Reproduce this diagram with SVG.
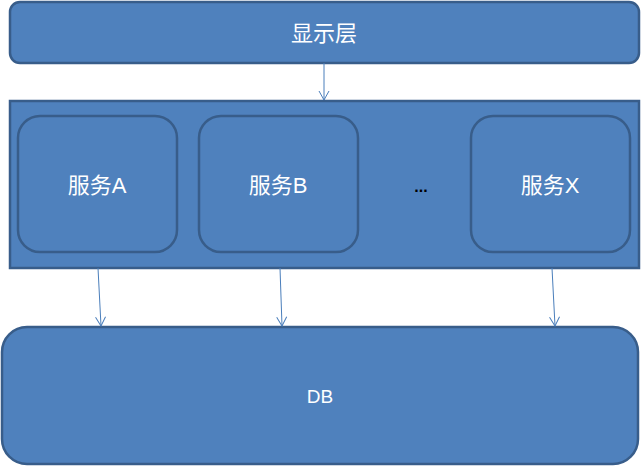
<svg xmlns="http://www.w3.org/2000/svg" width="641" height="466" viewBox="0 0 641 466">
<defs>
<style>
.box{fill:#4F81BD;stroke:#385D8A;stroke-width:2.5}
.t{fill:#fff;font-family:"Liberation Sans","Noto Sans CJK SC",sans-serif;font-size:22px;text-anchor:middle;dominant-baseline:central}
.c{stroke:#4A7EBB;stroke-width:1;fill:none;marker-end:url(#ah)}
</style>
<marker id="ah" markerWidth="12" markerHeight="12" refX="10" refY="6" orient="auto" markerUnits="userSpaceOnUse">
<path d="M1,1 L10,6 L1,11" fill="none" stroke="#4A7EBB" stroke-width="1"/>
</marker>
</defs>
<g id="display"><rect class="box" x="10" y="2" width="629" height="61" rx="10"/><text class="t" x="324" y="33">显示层</text></g>
<g id="services"><rect class="box" x="10" y="101" width="629" height="167"/></g>
<g id="svcA"><rect class="box" x="18" y="116" width="159" height="136" rx="22"/><text class="t" x="97" y="185">服务A</text></g>
<g id="svcB"><rect class="box" x="199" y="116" width="159" height="136" rx="22"/><text class="t" x="278" y="185">服务B</text></g>
<g id="dots"><text x="421" y="186" font-family="Liberation Sans,sans-serif" font-size="16" font-weight="bold" text-anchor="middle" dominant-baseline="central" fill="#000">...</text></g>
<g id="svcX"><rect class="box" x="471" y="116" width="159" height="136" rx="22"/><text class="t" x="550" y="185">服务X</text></g>
<g id="db"><rect class="box" x="2" y="327" width="636" height="137" rx="25"/><text class="t" x="320" y="396" style="font-size:19px">DB</text></g>
<g id="connectors">
<line class="c" x1="324" y1="63" x2="324" y2="100"/>
<line class="c" x1="98" y1="268" x2="101" y2="326"/>
<line class="c" x1="280" y1="268" x2="282" y2="326"/>
<line class="c" x1="552" y1="268" x2="555" y2="326"/>
</g>
</svg>
